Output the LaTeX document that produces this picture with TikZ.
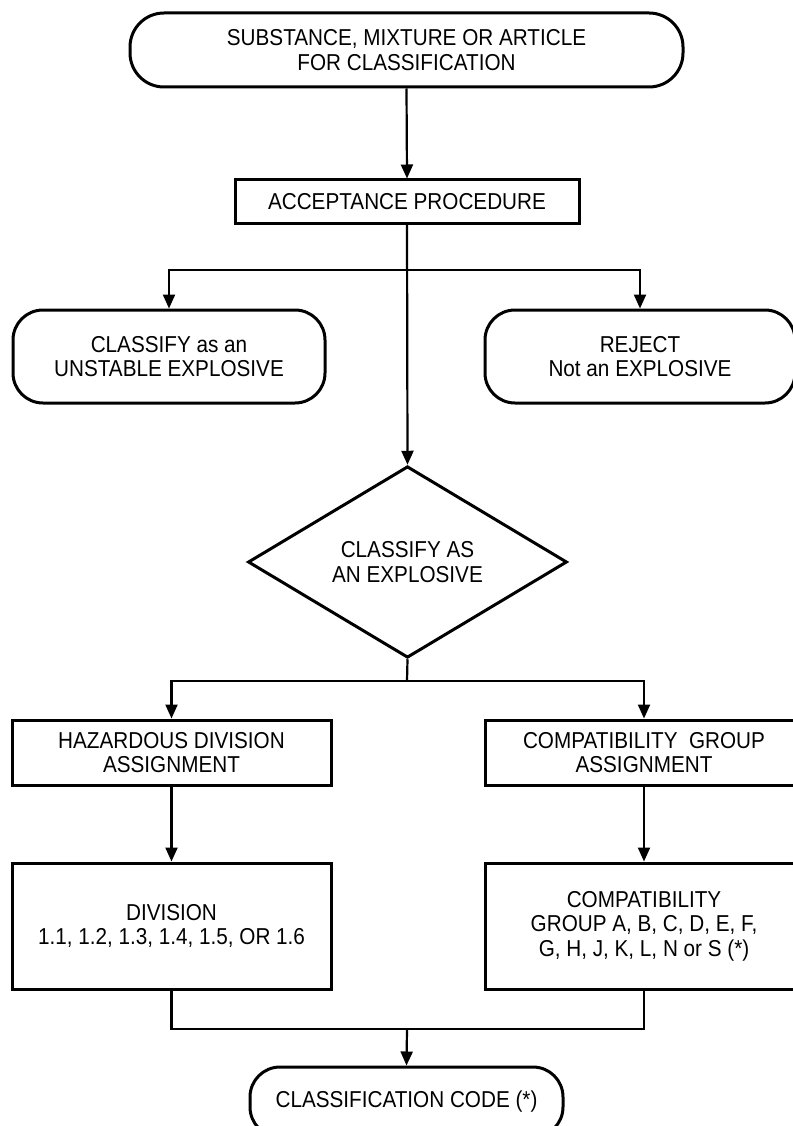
\documentclass[tikz,border=0pt]{standalone}
\usepackage{fontspec}
\setmainfont[FakeStretch=0.9]{Liberation Sans}
\usetikzlibrary{shapes.geometric}
\usetikzlibrary{arrows.meta}

\tikzset{
  boxline/.style={draw, line width=3pt, align=center, inner sep=0pt,
    font=\fontsize{23}{24.5}\selectfont},
  termbox/.style={boxline, rectangle, rounded corners=30pt},
  stepbox/.style={boxline, rectangle},
  decbox/.style={boxline, diamond},
  arr/.style={line width=2.2pt, -{Triangle[length=14pt,width=12pt]}},
  lnk/.style={line width=2.2pt}
}

\begin{document}
\begin{tikzpicture}[x=1pt,y=-1pt]

\useasboundingbox (0,0) rectangle (792,1126);

% nodes
{
\node[termbox, minimum width=553pt, minimum height=74pt, rounded corners=34pt] (sub) at (406.5,50)
{SUBSTANCE, MIXTURE OR ARTICLE\\FOR CLASSIFICATION};

\node[stepbox, minimum width=344pt, minimum height=43pt] (acc) at (407,201.5)
{ACCEPTANCE PROCEDURE};

\node[termbox, minimum width=312pt, minimum height=93pt] (unst) at (169,356.5)
{CLASSIFY as an\\UNSTABLE EXPLOSIVE};
\node[termbox, minimum width=310pt, minimum height=93pt] (rej) at (640,356.5)
{REJECT\\Not an EXPLOSIVE};

\node[decbox, minimum width=319pt, minimum height=159pt] (dia) at (407.5,562)
{CLASSIFY AS\\AN EXPLOSIVE};

\node[stepbox, minimum width=319pt, minimum height=65pt] (haz) at (171.5,752.5)
{HAZARDOUS DIVISION\\ASSIGNMENT};
\node[stepbox, minimum width=318pt, minimum height=65pt] (cgrp) at (644,752.5)
{COMPATIBILITY~~GROUP\\ASSIGNMENT};

\node[stepbox, minimum width=319pt, minimum height=126pt] (div) at (171.5,926)
{DIVISION\\1.1, 1.2, 1.3, 1.4, 1.5, OR 1.6};
\node[stepbox, minimum width=318pt, minimum height=126pt] (cgl) at (644,926)
{COMPATIBILITY\\GROUP A, B, C, D, E, F,\\G, H, J, K, L, N or S (*)};

\node[termbox, minimum width=313pt, minimum height=70pt] (code) at (406.5,1102)
{CLASSIFICATION CODE (*)};
}

% connectors
{
\coordinate (split1) at (407,270);
\coordinate (split2) at (407,681);
\coordinate (join) at (407,1029);

\draw[arr] (sub.south) -- (acc.north);
\draw[arr] (acc.south) -- (dia.north);
\draw[arr] (split1) -| (unst.north);
\draw[arr] (split1) -| (rej.north);

\draw[lnk] (dia.south) -- (split2);
\draw[arr] (split2) -| (haz.north);
\draw[arr] (split2) -| (cgrp.north);

\draw[arr] (haz.south) -- (div.north);
\draw[arr] (cgrp.south) -- (cgl.north);

\draw[lnk] (div.south) |- (join) -| (cgl.south);
\draw[arr] (join) -- (code.north);
}

\end{tikzpicture}
\end{document}
